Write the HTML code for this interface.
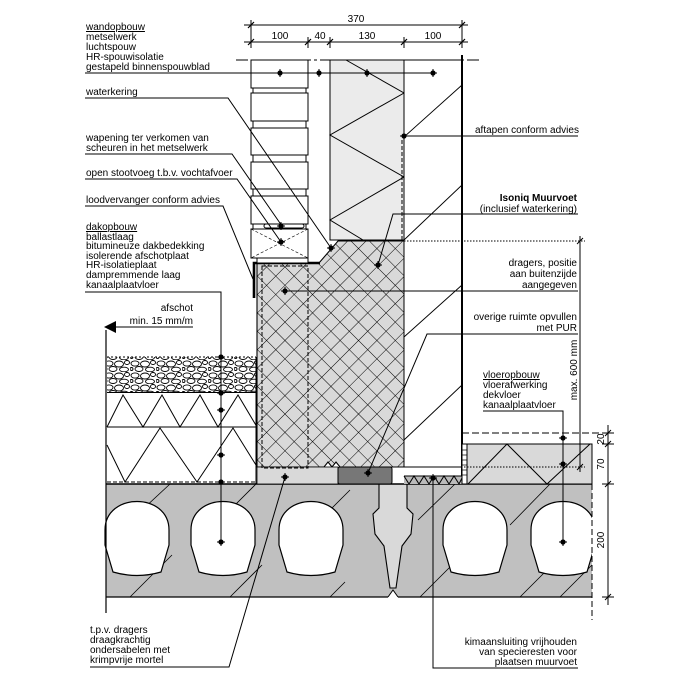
<!DOCTYPE html>
<html><head><meta charset="utf-8"><style>
html,body{margin:0;padding:0;background:#fff}
svg{display:block}
text{font-family:"Liberation Sans","DejaVu Sans",sans-serif;font-size:10px;fill:#000}
</style></head><body>
<svg width="700" height="700" viewBox="0 0 700 700" xmlns="http://www.w3.org/2000/svg">
<defs>
<pattern id="xh" width="13" height="13" patternUnits="userSpaceOnUse" patternTransform="rotate(45)">
<rect width="13" height="13" fill="#d9d9d9"/>
<line x1="0" y1="0" x2="13" y2="0" stroke="#000" stroke-width="1"/>
<line x1="0" y1="0" x2="0" y2="13" stroke="#000" stroke-width="1"/>
</pattern>
<pattern id="gr" width="26" height="12" patternUnits="userSpaceOnUse">
<rect width="26" height="12" fill="#fff"/>
<g fill="none" stroke="#000" stroke-width="0.9">
<ellipse cx="5" cy="3.5" rx="4" ry="2.6"/>
<ellipse cx="15" cy="4" rx="4.5" ry="3"/>
<ellipse cx="23" cy="2.5" rx="2.5" ry="2"/>
<ellipse cx="9" cy="9" rx="4" ry="2.5"/>
<ellipse cx="20" cy="9.5" rx="4.5" ry="2.3"/>
<ellipse cx="1.5" cy="9" rx="1.5" ry="1.5"/>
</g>
</pattern>
<g id="d"><circle r="2.6" fill="#000"/><line x1="-4" y1="0" x2="4" y2="0" stroke="#000"/><line x1="0" y1="-4" x2="0" y2="4" stroke="#000"/></g>
<path id="core" d="M-32,530 C-32,492 32,492 32,530 L32,545 L24,572 Q0,579 -24,572 L-32,545 Z"/>
</defs>

<!-- dimension lines top -->
<g stroke="#000" stroke-width="1">
<line x1="244" y1="25" x2="468" y2="25"/>
<line x1="244" y1="42" x2="468" y2="42"/>
<line x1="251" y1="20" x2="251" y2="48"/><line x1="462" y1="20" x2="462" y2="48"/>
<line x1="308" y1="37" x2="308" y2="48"/><line x1="330" y1="37" x2="330" y2="48"/><line x1="404" y1="37" x2="404" y2="48"/>
<g stroke-width="1.2"><line x1="248" y1="28" x2="254" y2="22"/><line x1="459" y1="28" x2="465" y2="22"/>
<line x1="248" y1="45" x2="254" y2="39"/><line x1="305" y1="45" x2="311" y2="39"/><line x1="327" y1="45" x2="333" y2="39"/><line x1="401" y1="45" x2="407" y2="39"/><line x1="459" y1="45" x2="465" y2="39"/></g>
</g>
<g style="font-size:9px" text-anchor="middle"><text x="356" y="22">370</text><text x="280" y="39">100</text><text x="320" y="39">40</text><text x="367" y="39">130</text><text x="433" y="39">100</text></g>

<!-- slab -->
<rect x="106" y="484" width="486" height="113" fill="#c0c0c0"/>
<g stroke="#000" stroke-width="0.8">
<line x1="130" y1="597" x2="172" y2="555"/><line x1="142" y1="510" x2="170" y2="484"/>
<line x1="230" y1="597" x2="262" y2="565"/><line x1="230" y1="510" x2="256" y2="484"/>
<line x1="330" y1="597" x2="345" y2="582"/><line x1="320" y1="520" x2="350" y2="490"/>
<line x1="420" y1="597" x2="460" y2="557"/><line x1="418" y1="520" x2="455" y2="484"/>
<line x1="520" y1="597" x2="550" y2="567"/><line x1="510" y1="525" x2="550" y2="484"/>
<line x1="560" y1="597" x2="592" y2="565"/>
</g>
<g fill="#fff" stroke="#000" stroke-width="1.2">
<use href="#core" x="137"/><use href="#core" x="223"/><use href="#core" x="311"/><use href="#core" x="475"/>
</g>
<clipPath id="sc"><rect x="106" y="484" width="486" height="113"/></clipPath>
<g clip-path="url(#sc)" fill="#fff" stroke="#000" stroke-width="1.2"><use href="#core" x="563"/></g>
<path d="M379,484 L379,508 L373,514 L375,534 L384,546 L390,588 L396,588 L402,546 L411,534 L413,514 L407,508 L407,484 Z" fill="#d9d9d9" stroke="#000" stroke-width="1.1"/>
<line x1="106" y1="484" x2="592" y2="484" stroke="#000" stroke-width="1.4"/>
<line x1="106" y1="597" x2="388" y2="597" stroke="#000" stroke-width="1.2"/>
<line x1="398" y1="597" x2="592" y2="597" stroke="#000" stroke-width="1.2"/>
<path d="M388,597 L393,590 L398,597" fill="#fff" stroke="#000"/>
<line x1="592" y1="484" x2="592" y2="620" stroke="#000" stroke-dasharray="6,3"/>
<line x1="106" y1="330" x2="106" y2="613" stroke="#000" stroke-width="1.2"/>

<!-- roof -->
<rect x="107" y="357" width="149" height="36" fill="url(#gr)"/>
<line x1="107" y1="357" x2="256" y2="357" stroke="#000" stroke-dasharray="2,2"/>
<line x1="107" y1="393" x2="257" y2="393" stroke="#000" stroke-width="2"/>
<rect x="107" y="393" width="149" height="34" fill="#fff"/>
<polyline points="107,427 123,395 143,427 162,395 180,427 200,395 218,427 238,395 257,427" fill="none" stroke="#000"/>
<line x1="107" y1="427" x2="256" y2="427" stroke="#000"/>
<polyline points="107,445 125,482 160,428 197,482 233,428 256,465" fill="none" stroke="#000"/>
<line x1="107" y1="482" x2="256" y2="482" stroke="#000" stroke-dasharray="4,2"/>
<line x1="256" y1="357" x2="256" y2="484" stroke="#000"/>
<!-- afschot arrow -->
<line x1="107" y1="327" x2="193" y2="327" stroke="#000"/>
<path d="M104,327 L116,321 L116,333 Z" fill="#000"/>
<text x="193" y="311" text-anchor="end">afschot</text>
<text x="193" y="324" text-anchor="end">min. 15 mm/m</text>

<!-- muurvoet -->
<path d="M257,263 L319,263 L338,241 L405,241 L405,467 L340,467 L336,462 L332,467 L328,462 L324,467 L257,467 Z" fill="url(#xh)" stroke="#000" stroke-width="1.1"/>
<rect x="257" y="467" width="81" height="17" fill="#d9d9d9" stroke="#000" stroke-width="0.8"/>
<rect x="262" y="266" width="46" height="202" fill="none" stroke="#000" stroke-dasharray="4,2"/>
<rect x="338" y="467" width="54" height="17" rx="2" fill="#777" stroke="#000"/>
<path d="M254,298 L254,263 L320,263" fill="none" stroke="#000" stroke-width="2.6"/>

<!-- brick wall -->
<g fill="#fff" stroke="#000" stroke-width="1">
<rect x="251" y="60" width="57" height="28"/>
<rect x="253" y="88" width="53" height="5"/><rect x="251" y="93" width="57" height="28"/>
<rect x="253" y="121" width="53" height="7"/><rect x="251" y="128" width="57" height="27"/>
<rect x="253" y="155" width="53" height="7"/><rect x="251" y="162" width="57" height="27"/>
<rect x="253" y="189" width="53" height="7"/><rect x="251" y="196" width="57" height="28"/>
<rect x="253" y="224" width="53" height="5"/><rect x="251" y="229" width="57" height="29"/>
<rect x="257" y="258" width="51" height="5"/>
</g>
<g stroke="#000" stroke-width="0.6" stroke-dasharray="3,2"><line x1="251" y1="229" x2="308" y2="258"/><line x1="308" y1="229" x2="251" y2="258"/></g>
<rect x="264" y="224" width="40" height="4" rx="2" fill="#fff" stroke="#000"/>

<!-- insulation -->
<rect x="330" y="60" width="74" height="180" fill="#ebebeb" stroke="#000"/>
<polyline points="346,60 404,93 330,135 404,177 330,220 363,240" fill="none" stroke="#000"/>
<!-- inner leaf -->
<rect x="404" y="60" width="58" height="407" fill="#fff" stroke="#000"/>
<g stroke="#000" stroke-width="0.9"><line x1="462" y1="85" x2="404" y2="137"/><line x1="462" y1="185" x2="404" y2="240"/><line x1="462" y1="285" x2="404" y2="337"/><line x1="462" y1="385" x2="404" y2="440"/></g>
<line x1="462" y1="55" x2="462" y2="480" stroke="#000" stroke-width="2"/>
<line x1="402" y1="140" x2="402" y2="240" stroke="#000" stroke-dasharray="4,2"/>
<line x1="236" y1="60" x2="480" y2="60" stroke="#000" stroke-dasharray="12,3,3,3"/>
<!-- kimaan strip -->
<rect x="404" y="476" width="58" height="8" fill="#bbb"/>
<polyline points="404,476 409,484 414,476 419,484 424,476 429,484 434,476 439,484 444,476 449,484 454,476 459,484 462,478" fill="none" stroke="#000"/>
<line x1="404" y1="476" x2="462" y2="476" stroke="#000"/>
<!-- ladder -->
<rect x="462" y="444" width="5" height="40" fill="#fff" stroke="#000"/>
<g stroke="#000" stroke-width="0.7"><line x1="462" y1="450" x2="467" y2="450"/><line x1="462" y1="455" x2="467" y2="455"/><line x1="462" y1="460" x2="467" y2="460"/><line x1="462" y1="465" x2="467" y2="465"/><line x1="462" y1="470" x2="467" y2="470"/><line x1="462" y1="475" x2="467" y2="475"/></g>
<!-- floor -->
<rect x="467" y="444" width="125" height="40" fill="#d9d9d9" stroke="#000"/>
<polyline points="468,484 507,444 547,484 590,444" fill="none" stroke="#000"/>
<line x1="462" y1="433" x2="612" y2="433" stroke="#000" stroke-dasharray="7,3"/>
<line x1="404" y1="241" x2="585" y2="241" stroke="#000" stroke-dasharray="1.5,1.5"/>
<line x1="404" y1="467" x2="585" y2="467" stroke="#000" stroke-dasharray="1.5,1.5"/>
<!-- right dims -->
<g stroke="#000">
<line x1="580" y1="236" x2="580" y2="472"/><line x1="577" y1="244" x2="583" y2="238"/><line x1="577" y1="470" x2="583" y2="464"/>
<line x1="608" y1="425" x2="608" y2="605"/>
<line x1="602" y1="433" x2="614" y2="433"/><line x1="602" y1="444" x2="614" y2="444"/><line x1="602" y1="484" x2="614" y2="484"/><line x1="602" y1="597" x2="614" y2="597"/>
<line x1="605" y1="436" x2="611" y2="430"/><line x1="605" y1="447" x2="611" y2="441"/><line x1="605" y1="487" x2="611" y2="481"/><line x1="605" y1="600" x2="611" y2="594"/>
</g>
<g style="font-size:9px" text-anchor="middle">
<text transform="translate(577,370) rotate(-90)">max. 600 mm</text>
<text transform="translate(604,439) rotate(-90)">20</text>
<text transform="translate(604,464) rotate(-90)">70</text>
<text transform="translate(604,540) rotate(-90)">200</text>
</g>

<!-- leaders -->
<g fill="none" stroke="#000" stroke-width="1">
<polyline points="85,73 433,73"/>
<polyline points="85,98 228,98 331,248"/>
<polyline points="85,154 232,154 282,226"/>
<polyline points="85,179 237,179 281,242"/>
<polyline points="85,206 223,206 253,279"/>
<polyline points="85,292 221,292 221,542"/>
<polyline points="404,136 578,136"/>
<polyline points="578,214 393,214 378,265"/>
<polyline points="285,291 578,291"/>
<polyline points="578,334 427,334 368,473"/>
<polyline points="483,411 563,411 563,542"/>
<polyline points="90,667 229,667 285,477"/>
<polyline points="578,668 433,668 433,478"/>
</g>
<g>
<use href="#d" x="280" y="73"/><use href="#d" x="319" y="73"/><use href="#d" x="367" y="73"/><use href="#d" x="433" y="73"/>
<use href="#d" x="331" y="248"/><use href="#d" x="281" y="226"/><use href="#d" x="281" y="242"/>
<use href="#d" x="221" y="357"/><use href="#d" x="221" y="393"/><use href="#d" x="221" y="410"/><use href="#d" x="221" y="455"/><use href="#d" x="221" y="482"/><use href="#d" x="221" y="542"/>
<use href="#d" x="404" y="136"/><use href="#d" x="378" y="265"/><use href="#d" x="285" y="291"/><use href="#d" x="368" y="473"/>
<use href="#d" x="563" y="438"/><use href="#d" x="563" y="464"/><use href="#d" x="563" y="542"/>
<use href="#d" x="285" y="477"/><use href="#d" x="433" y="478"/>
</g>

<!-- labels left -->
<text x="86" y="30" text-decoration="underline">wandopbouw</text>
<text x="86" y="40">metselwerk</text>
<text x="86" y="50">luchtspouw</text>
<text x="86" y="60">HR-spouwisolatie</text>
<text x="86" y="70">gestapeld binnenspouwblad</text>
<text x="86" y="95">waterkering</text>
<text x="86" y="141">wapening ter verkomen van</text>
<text x="86" y="151">scheuren in het metselwerk</text>
<text x="86" y="176">open stootvoeg t.b.v. vochtafvoer</text>
<text x="86" y="203">loodvervanger conform advies</text>
<text x="86" y="230" text-decoration="underline">dakopbouw</text>
<text x="86" y="240">ballastlaag</text>
<text x="86" y="249">bitumineuze dakbedekking</text>
<text x="86" y="259">isolerende afschotplaat</text>
<text x="86" y="268">HR-isolatieplaat</text>
<text x="86" y="278">dampremmende laag</text>
<text x="86" y="288">kanaalplaatvloer</text>
<text x="90" y="633">t.p.v. dragers</text>
<text x="90" y="643">draagkrachtig</text>
<text x="90" y="653">ondersabelen met</text>
<text x="90" y="663">krimpvrije mortel</text>
<!-- labels right -->
<text x="475" y="133">aftapen conform advies</text>
<g text-anchor="end">
<text x="577" y="201" style="font-weight:bold">Isoniq Muurvoet</text>
<text x="577" y="212">(inclusief waterkering)</text>
<text x="577" y="266">dragers, positie</text>
<text x="577" y="277">aan buitenzijde</text>
<text x="577" y="288">aangegeven</text>
<text x="577" y="320">overige ruimte opvullen</text>
<text x="577" y="331">met PUR</text>
<text x="577" y="645">kimaansluiting vrijhouden</text>
<text x="577" y="655">van specieresten voor</text>
<text x="577" y="665">plaatsen muurvoet</text>
</g>
<text x="483" y="378" text-decoration="underline">vloeropbouw</text>
<text x="483" y="388">vloerafwerking</text>
<text x="483" y="398">dekvloer</text>
<text x="483" y="408">kanaalplaatvloer</text>
</svg>
</body></html>
